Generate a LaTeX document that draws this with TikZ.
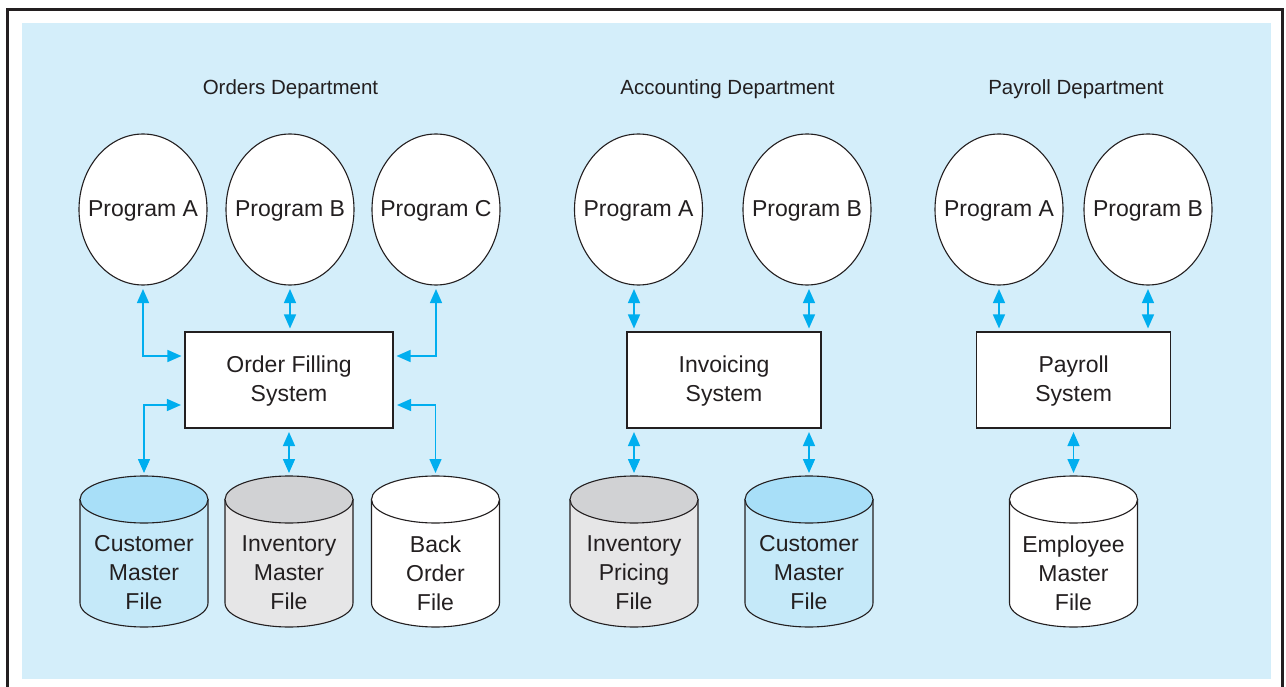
\documentclass[tikz,border=0pt]{standalone}
\usepackage{fontspec}
\setmainfont{Liberation Sans}
\usetikzlibrary{shapes.geometric,arrows.meta}
\definecolor{bgblue}{RGB}{212,238,250}
\definecolor{arrowblue}{RGB}{0,174,239}
\definecolor{framegray}{RGB}{35,31,32}
\definecolor{linegray}{RGB}{35,31,32}
\definecolor{custbody}{RGB}{197,233,249}
\definecolor{custtop}{RGB}{168,223,248}
\definecolor{invbody}{RGB}{230,230,231}
\definecolor{invtop}{RGB}{209,210,212}
\tikzset{
  maintext/.style={font=\fontsize{23}{29}\selectfont, align=center, inner sep=0pt, text=linegray},
  depttext/.style={font=\fontsize{20.5}{24}\selectfont, inner sep=0pt, text=linegray},
  prog/.style={ellipse, draw=linegray, line width=1.1pt, fill=white, minimum width=128pt, minimum height=151pt, inner sep=0pt},
  sysbox/.style={rectangle, draw=linegray, line width=1.1pt, fill=white, minimum height=96pt, inner sep=0pt},
  cylline/.style={draw=linegray, line width=1.1pt},
  biarrow/.style={draw=arrowblue, line width=1.5pt, {Triangle[width=12pt,length=14pt]}-{Triangle[width=12pt,length=14pt]}, shorten <=3.5pt, shorten >=3pt},
}
\newcommand{\dbcyl}[5]{%
  \filldraw[cylline, fill=#3] (#2-64,499.5) -- (#2-64,603) arc[start angle=180,end angle=360,x radius=64pt,y radius=24pt] -- (#2+64,499.5) -- cycle;
  \filldraw[cylline, fill=#4] (#2,499.5) ellipse[x radius=64pt,y radius=23.5pt];
  \coordinate (#1-top) at (#2,476);
  \node[maintext] (#1) at (#2,573) {#5};
}
\begin{document}
\begin{tikzpicture}[x=1pt,y=-1pt]
\useasboundingbox (0,0) rectangle (1286,687);
\clip (0,0) rectangle (1286,687);
\fill[bgblue] (22,23) rectangle (1271,679);
\draw[framegray, line width=3pt] (7.5,700) -- (7.5,9.5) -- (1282.5,9.5) -- (1282.5,700);

% department labels
\node[depttext] (dOrd) at (290.5,89.5) {Orders Department};
\node[depttext] (dAcc) at (727.5,89.5) {Accounting Department};
\node[depttext] (dPay) at (1076,89.5) {Payroll Department};

% programs
\node[prog] (oA) at (143,209.5) {};
\node[maintext] (oA-t) at (143,211) {Program A};
\node[prog] (oB) at (290,209.5) {};
\node[maintext] (oB-t) at (290,211) {Program B};
\node[prog] (oC) at (436,209.5) {};
\node[maintext] (oC-t) at (436,211) {Program C};
\node[prog] (aA) at (638.5,209.5) {};
\node[maintext] (aA-t) at (638.5,211) {Program A};
\node[prog] (aB) at (807,209.5) {};
\node[maintext] (aB-t) at (807,211) {Program B};
\node[prog] (pA) at (999,209.5) {};
\node[maintext] (pA-t) at (999,211) {Program A};
\node[prog] (pB) at (1148,209.5) {};
\node[maintext] (pB-t) at (1148,211) {Program B};

% systems
\node[sysbox, minimum width=208pt] (ofs) at (289,380) {};
\node[maintext] (ofs-t) at (289,381.5) {Order Filling\\System};
\node[sysbox, minimum width=194pt] (inv) at (724,380) {};
\node[maintext] (inv-t) at (724,381.5) {Invoicing\\System};
\node[sysbox, minimum width=194pt] (pay) at (1073.7,380) {};
\node[maintext] (pay-t) at (1073.7,381.5) {Payroll\\System};

% files
\dbcyl{cmo}{144}{custbody}{custtop}{Customer\\Master\\File}
\dbcyl{imo}{289}{invbody}{invtop}{Inventory\\Master\\File}
\dbcyl{bo}{435.5}{white}{white}{Back\\Order\\File}
\dbcyl{ipf}{634}{invbody}{invtop}{Inventory\\Pricing\\File}
\dbcyl{cma}{809}{custbody}{custtop}{Customer\\Master\\File}
\dbcyl{emf}{1073.5}{white}{white}{Employee\\Master\\File}

% connectors: orders
\draw[biarrow] (oA.south) |- ([yshift=24pt]ofs.west);
\draw[biarrow] (oB.south) -- (oB.south |- ofs.north);
\draw[biarrow] (oC.south) |- ([yshift=24pt]ofs.east);
\draw[biarrow] ([yshift=-25pt]ofs.west) -| (cmo-top);
\draw[biarrow] (ofs.south -| imo-top) -- (imo-top);
\draw[biarrow] ([yshift=-25pt]ofs.east) -| (bo-top);

% connectors: accounting
\draw[biarrow] (aA.south -| ipf-top) -- (inv.north -| ipf-top);
\draw[biarrow] (aB.south -| cma-top) -- (inv.north -| cma-top);
\draw[biarrow] (inv.south -| ipf-top) -- (ipf-top);
\draw[biarrow] (inv.south -| cma-top) -- (cma-top);

% connectors: payroll
\draw[biarrow] (pA.south) -- (pA.south |- pay.north);
\draw[biarrow] (pB.south) -- (pB.south |- pay.north);
\draw[biarrow] (pay.south -| emf-top) -- (emf-top);
\end{tikzpicture}
\end{document}
